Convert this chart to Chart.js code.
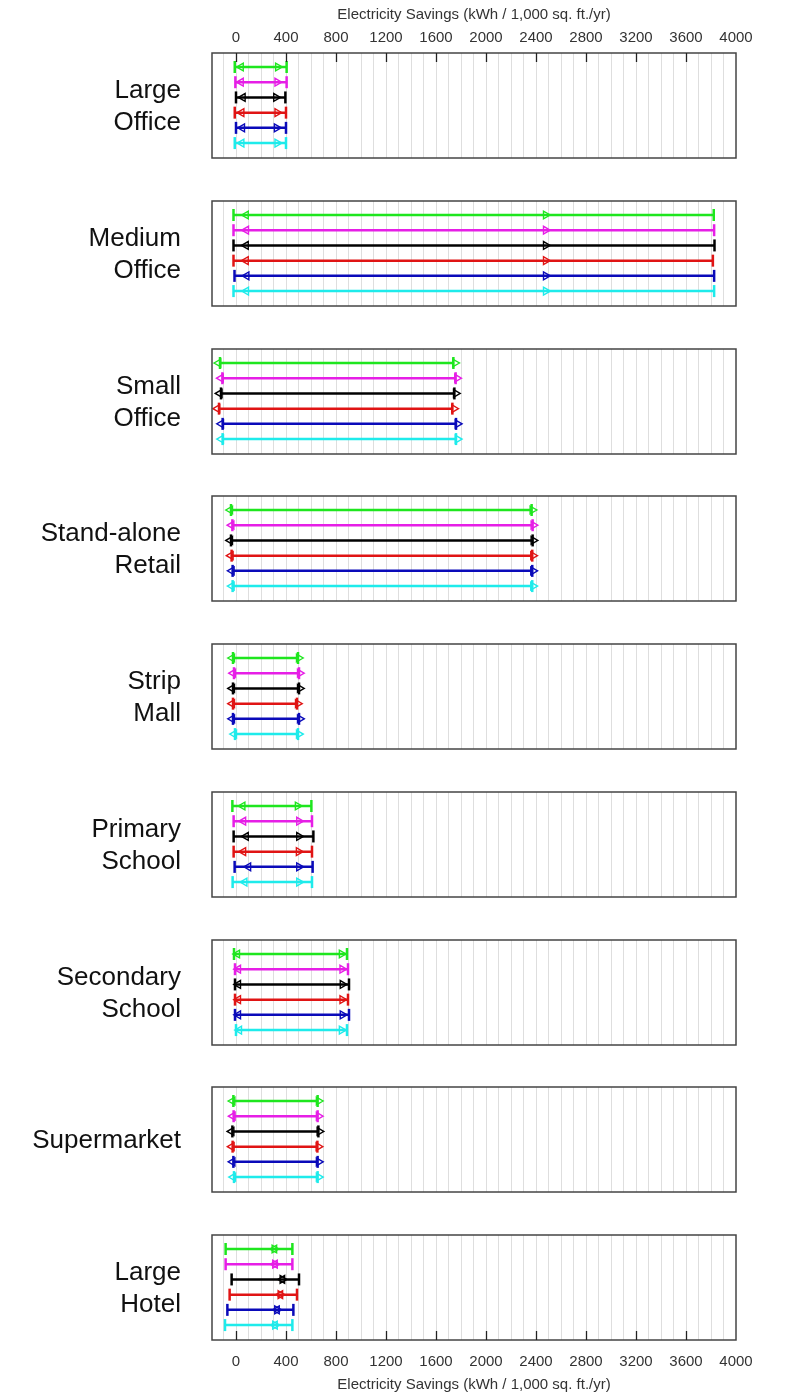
<!DOCTYPE html>
<html>
<head>
<meta charset="utf-8">
<script src="https://cdn.jsdelivr.net/npm/chart.js@4/dist/chart.umd.min.js"></script>
<style>
  body { margin: 0; background: #fff; width: 800px; height: 1394px; position: relative; overflow: hidden; font-family: "Liberation Sans", Arial, sans-serif; }
  .panel { position: absolute; left: 0; }
  .label { position: absolute; right: 619px; text-align: right; font-size: 26px; line-height: 32px; color: #111; white-space: nowrap; }
</style>
</head>
<body>
<script>
// building types (one panel each)
const buildings = ['Large|Office', 'Medium|Office', 'Small|Office', 'Stand-alone|Retail', 'Strip|Mall',
  'Primary|School', 'Secondary|School', 'Supermarket', 'Large|Hotel'];

// 6 series per panel, top to bottom: green, magenta, black, red, blue, cyan
const seriesColors = ['#1ee61e', '#e61ee6', '#000000', '#e01414', '#0a0ab9', '#1eebeb'];

// whisker ends (kWh / 1,000 sq. ft./yr)
const lowValues = [
  [-10, -5, 0, -10, 0, -10],
  [-20, -20, -20, -20, -12, -20],
  [-128, -109, -120, -136, -107, -107],
  [-40, -29, -40, -35, -27, -27],
  [-24, -16, -24, -24, -24, -8],
  [-29, -19, -19, -19, -11, -27],
  [-16, -8, -8, -8, -8, 0],
  [-21, -19, -29, -27, -21, -16],
  [-83, -83, -35, -51, -69, -88]
];
const highValues = [
  [405, 405, 395, 400, 400, 400],
  [3822, 3825, 3828, 3815, 3825, 3825],
  [1739, 1757, 1747, 1731, 1760, 1760],
  [2365, 2373, 2373, 2370, 2370, 2370],
  [496, 504, 504, 488, 504, 496],
  [603, 608, 619, 608, 613, 608],
  [888, 896, 904, 896, 904, 888],
  [653, 653, 659, 651, 653, 653],
  [451, 451, 504, 488, 459, 451]
];
// left-pointing and right-pointing triangle markers
const leftMarks = [
  [40, 40, 55, 45, 50, 45],
  [80, 82, 80, 80, 85, 82],
  [-140, -120, -130, -148, -118, -118],
  [-46, -35, -46, -41, -33, -33],
  [-30, -22, -30, -30, -30, -14],
  [53, 59, 80, 59, 99, 69],
  [10, 18, 18, 18, 18, 26],
  [-27, -25, -35, -33, -27, -22],
  [307, 312, 371, 355, 328, 312]
];
const rightMarks = [
  [335, 330, 320, 330, 325, 330],
  [2478, 2478, 2478, 2478, 2478, 2478],
  [1752, 1768, 1758, 1744, 1772, 1772],
  [2371, 2379, 2379, 2376, 2376, 2376],
  [502, 510, 510, 494, 510, 502],
  [493, 504, 504, 501, 504, 504],
  [845, 850, 852, 850, 852, 845],
  [661, 661, 667, 659, 661, 661],
  [307, 312, 371, 355, 328, 312]
];

const tickValues = [0, 400, 800, 1200, 1600, 2000, 2400, 2800, 3200, 3600, 4000];
const axisTitle = 'Electricity Savings (kWh / 1,000 sq. ft./yr)';
const xMin = -192, xMax = 4000;

// grid every 100 units
const gridValues = [];
for (let v = -100; v <= xMax; v += 100) gridValues.push(v);

const FONT = '"Liberation Sans", Arial, sans-serif';
const boxTop0 = 53, boxH = 105, pitch = 147.75;

// frame around each panel + inward ticks on the outer axes
const framePlugin = {
  id: 'frame',
  afterDraw(chart, args, opts) {
    const ctx = chart.ctx, a = chart.chartArea, xs = chart.scales.x;
    ctx.save();
    ctx.strokeStyle = '#444';
    ctx.lineWidth = 1.5;
    ctx.strokeRect(a.left, a.top, a.right - a.left, a.bottom - a.top);
    if (opts.side) {
      ctx.strokeStyle = '#222';
      ctx.lineWidth = 1.3;
      tickValues.forEach(v => {
        if (v >= xMax) return;
        const px = Math.round(xs.getPixelForValue(v)) + 0.5;
        const y0 = opts.side === 'top' ? a.top : a.bottom;
        const y1 = opts.side === 'top' ? a.top + 9 : a.bottom - 9;
        ctx.beginPath(); ctx.moveTo(px, y0); ctx.lineTo(px, y1); ctx.stroke();
      });
    }
    ctx.restore();
  }
};

buildings.forEach((name, p) => {
  const boxTop = Math.round(boxTop0 + p * pitch);
  const first = p === 0, last = p === buildings.length - 1;
  const divTop = first ? 0 : boxTop - 5;
  const divBottom = last ? 1394 : boxTop + boxH + 5;
  const h = divBottom - divTop;

  const wrap = document.createElement('div');
  wrap.className = 'panel';
  wrap.style.top = divTop + 'px';
  const cv = document.createElement('canvas');
  cv.width = 800; cv.height = h;
  wrap.appendChild(cv);
  document.body.appendChild(wrap);

  const lines = name.split('|');
  const lab = document.createElement('div');
  lab.className = 'label';
  lab.innerHTML = lines.join('<br>');
  lab.style.top = (boxTop + boxH / 2 - lines.length * 16 - 1) + 'px';
  document.body.appendChild(lab);

  const datasets = [];
  seriesColors.forEach((c, r) => {
    datasets.push({
      data: [{ x: lowValues[p][r], y: r + 1 }, { x: highValues[p][r], y: r + 1 }],
      borderColor: c, borderWidth: 2.5,
      pointStyle: 'line', pointRotation: 90, pointRadius: 6, pointHoverRadius: 6,
      pointBorderColor: c, pointBorderWidth: 2.5, clip: false
    });
    datasets.push({
      data: [{ x: leftMarks[p][r], y: r + 1 }, { x: rightMarks[p][r], y: r + 1 }],
      showLine: false,
      pointStyle: 'triangle', pointRadius: 4.5, pointHoverRadius: 4.5,
      pointRotation: ctx => ctx.dataIndex === 0 ? -90 : 90,
      pointBorderColor: c, pointBorderWidth: 1.4,
      pointBackgroundColor: 'rgba(255,255,255,0)', clip: false
    });
  });

  const showAxis = first || last;
  new Chart(cv, {
    type: 'line',
    data: { datasets },
    plugins: [framePlugin],
    options: {
      responsive: false,
      animation: false,
      events: [],
      layout: { autoPadding: false, padding: { left: 212, right: 64, top: first ? 0 : 5, bottom: last ? 0 : 5 } },
      plugins: {
        legend: { display: false },
        tooltip: { enabled: false },
        frame: { side: first ? 'top' : (last ? 'bottom' : null) }
      },
      scales: {
        x: {
          type: 'linear', min: xMin, max: xMax,
          position: first ? 'top' : 'bottom',
          afterBuildTicks: s => { s.ticks = gridValues.map(v => ({ value: v })); },
          afterFit: s => { s.height = first ? boxTop : (last ? divBottom - boxTop - boxH : 0); },
          border: { display: false },
          grid: {
            drawTicks: false,
            lineWidth: 1,
            color: c => (c.tick && c.tick.value > xMin && c.tick.value < xMax) ? '#dedede' : 'rgba(0,0,0,0)'
          },
          ticks: {
            display: showAxis, autoSkip: false, maxRotation: 0, padding: first ? 6 : 13,
            color: '#333', font: { size: 15, family: FONT },
            callback: v => tickValues.includes(v) ? String(v) : ''
          },
          title: {
            display: showAxis, text: axisTitle, color: '#333',
            font: { size: 15, family: FONT }, padding: { top: 6, bottom: 0 }
          }
        },
        y: { type: 'linear', min: 0.08, max: 6.98, reverse: true, display: false }
      }
    }
  });
});
</script>
</body>
</html>
